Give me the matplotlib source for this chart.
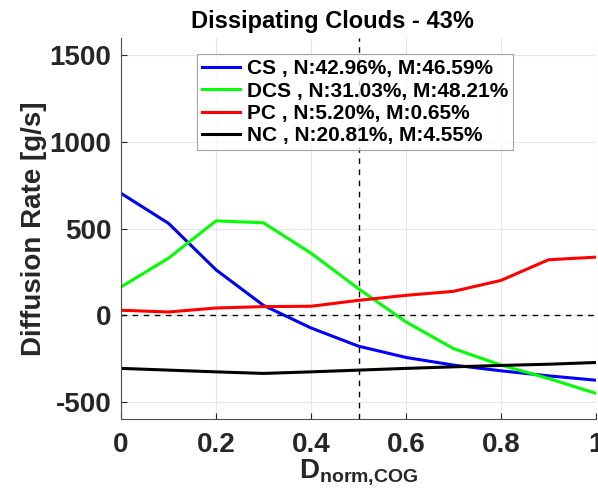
import numpy as np
import matplotlib
matplotlib.use('Agg')
import matplotlib.pyplot as plt

plt.rcParams['font.family'] = ['Liberation Sans', 'DejaVu Sans']
plt.rcParams['font.weight'] = 'bold'
plt.rcParams['axes.unicode_minus'] = False
plt.rcParams['mathtext.fontset'] = 'custom'
plt.rcParams['mathtext.rm'] = 'Liberation Sans:bold'
plt.rcParams['mathtext.bf'] = 'Liberation Sans:bold'

# Normalized distance to the cloud centre of gravity
d_norm = [0.0, 0.1, 0.2, 0.3, 0.4, 0.5, 0.6, 0.7, 0.8, 0.9, 1.0]

# Diffusion rate per cloud class [g/s]
cs = [703, 530, 262, 57, -73, -178, -243, -287, -320, -349, -374]
dcs = [163, 329, 544, 533, 358, 153, -38, -192, -287, -364, -450]
pc = [29, 19, 42, 50, 52, 86, 115, 138, 201, 320, 335]
nc = [-306, -316, -326, -335, -326, -316, -306, -297, -289, -282, -272]

labels = ['CS , N:42.96%, M:46.59%',
          'DCS , N:31.03%, M:48.21%',
          'PC , N:5.20%, M:0.65%',
          'NC , N:20.81%, M:4.55%']
colors = ['#0000ff', '#00ff00', '#ff0000', '#000000']

fig = plt.figure(figsize=(5.98, 4.99), dpi=100)
ax = fig.add_axes([0.2023, 0.1595, 0.7944, 0.7651])

for series, lab, col in zip([cs, dcs, pc, nc], labels, colors):
    ax.plot(d_norm, series, color=col, lw=2.2, label=lab)

ax.axhline(0, color='black', ls='--', lw=1.0, dashes=(4, 4))
ax.axvline(0.5, color='black', ls='--', lw=1.0, dashes=(4, 4))

ax.set_xlim(0, 1)
ax.set_ylim(-600, 1600)
ax.set_xticks([0, 0.2, 0.4, 0.6, 0.8, 1])
ax.set_xticklabels(['0', '0.2', '0.4', '0.6', '0.8', '1'])
ax.set_yticks([-500, 0, 500, 1000, 1500])
ax.grid(True, color='#e6e6e6', lw=0.8)
ax.set_axisbelow(True)

for side in ['top', 'right']:
    ax.spines[side].set_visible(False)
for side in ['left', 'bottom']:
    ax.spines[side].set_color('#4d4d4d')
    ax.spines[side].set_linewidth(0.8)
ax.tick_params(labelsize=20, colors='#262626', direction='in', length=4,
               width=0.8, pad=7)
ax.tick_params(axis='x', pad=9)

ax.set_title('Dissipating Clouds - 43%', fontsize=17, fontweight='bold',
             x=0.445, pad=7)
ax.set_ylabel('Diffusion Rate [g/s]', fontsize=20, fontweight='bold',
              color='#262626', labelpad=2)
ax.set_xlabel(r'D$_{\mathrm{norm{,}COG}}$', fontsize=20, fontweight='bold',
              color='#262626', labelpad=0)

leg = ax.legend(loc='upper left', bbox_to_anchor=(0.16, 0.957), fontsize=15,
                frameon=True, fancybox=False, handlelength=1.8,
                handletextpad=0.35, borderpad=0.25, labelspacing=0.16,
                borderaxespad=0)
leg.get_frame().set_edgecolor('#8c8c8c')
leg.get_frame().set_linewidth(0.8)
for t in leg.get_texts():
    t.set_fontweight('bold')

fig.savefig('out.png', dpi=100)
